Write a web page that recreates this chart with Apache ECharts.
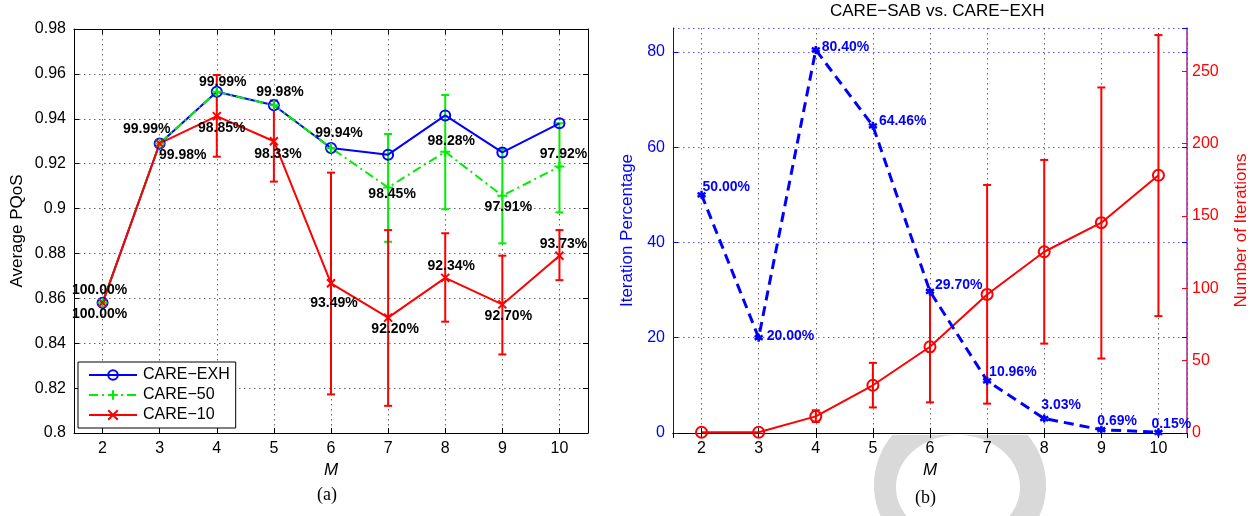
<!DOCTYPE html>
<html><head><meta charset="utf-8">
<script src="https://cdn.jsdelivr.net/npm/echarts@6/dist/echarts.min.js"></script>
<style>html,body{margin:0;padding:0;background:#fff}#c{width:1259px;height:516px}</style>
</head><body><div id="c"></div>
<script>
// ---------- data ----------
const M = [2, 3, 4, 5, 6, 7, 8, 9, 10];
// (a) Average PQoS
const pqosEXH = [0.858, 0.929, 0.952, 0.946, 0.927, 0.924, 0.9415, 0.925, 0.938];
const pqos50 = [0.858, 0.929, 0.952, 0.946, 0.927, 0.9094, 0.9253, 0.9057, 0.9187];
const pqos50Low = [null, null, null, null, null, 0.8852, 0.8997, 0.8845, 0.8983];
const pqos50High = [null, null, null, null, null, 0.9332, 0.9506, 0.9265, 0.938];
const pqos10 = [0.858, 0.929, 0.9412, 0.930, 0.8667, 0.8514, 0.8691, 0.8573, 0.879];
const pqos10Low = [null, null, 0.9231, 0.912, 0.8172, 0.8121, 0.8496, 0.835, 0.8681];
const pqos10High = [null, null, 0.9595, 0.9482, 0.916, 0.8904, 0.889, 0.879, 0.8904];
const ratio50Labels = ['100.00%', '99.99%', '99.99%', '99.98%', '99.94%', '98.45%', '98.28%', '97.91%', '97.92%'];
const ratio10Labels = ['100.00%', '99.98%', '98.85%', '98.33%', '93.49%', '92.20%', '92.34%', '92.70%', '93.73%'];
// (b) CARE-SAB vs. CARE-EXH
const iterPct = [50.00, 20.00, 80.40, 64.46, 29.70, 10.96, 3.03, 0.69, 0.15];
const iterPctLabels = ['50.00%', '20.00%', '80.40%', '64.46%', '29.70%', '10.96%', '3.03%', '0.69%', '0.15%'];
const iterNum = [0.5, 0.5, 11.5, 33, 59.6, 95.8, 125.3, 145.4, 178.2];
const iterNumLow = [null, null, 7.6, 17.7, 21.2, 20.3, 61.8, 51.5, 80.8];
const iterNumHigh = [null, null, 15.7, 48.5, 98.8, 171.5, 188.8, 238.9, 275.1];
const legendNames = ['CARE\u2212EXH', 'CARE\u221250', 'CARE\u221210'];
const titleText = 'CARE\u2212SAB vs. CARE\u2212EXH';

// ---------- layout / style ----------
const FONT = "'Liberation Sans', Arial, Helvetica, sans-serif";
const SERIF = "'Liberation Serif', 'Times New Roman', serif";
const BLUE = '#0000ff', RED = '#ff0000', GREEN = '#00ee00', PURPLE = '#a0288c';
const off50 = [[-3, -13], [-13, -14], [6, -10], [6, -13], [8, -15], [4, 7], [6, -11], [6, 11], [4, -12]];
const off10 = [[-3, 11], [23, 12], [5, 12], [4, 13], [3, 20], [7, 12], [6, -12], [6, 12], [4, -12]];
const offPct = [[1, -8], [8, -2], [6, -3], [6, -5], [5, -6], [2, -9], [-3, -13], [-4, -9], [-7, -8]];

const PLUS = 'path://M0,5L10,5M5,0L5,10';
const CROSS = 'path://M0,0L10,10M10,0L0,10';
const STAR = 'path://M5,0L5,10M0.7,2.5L9.3,7.5M0.7,7.5L9.3,2.5';

function errData(lo, hi) {
  const out = [];
  M.forEach((m, i) => { if (lo[i] != null) out.push([m, lo[i], hi[i]]); });
  return out;
}
function errRender(color) {
  return function (params, api) {
    const x = api.value(0);
    const p1 = api.coord([x, api.value(1)]);
    const p2 = api.coord([x, api.value(2)]);
    const w = 4;
    const style = { stroke: color, lineWidth: 2 };
    return { type: 'group', children: [
      { type: 'line', shape: { x1: p1[0], y1: p1[1], x2: p2[0], y2: p2[1] }, style },
      { type: 'line', shape: { x1: p1[0] - w, y1: p1[1], x2: p1[0] + w, y2: p1[1] }, style },
      { type: 'line', shape: { x1: p2[0] - w, y1: p2[1], x2: p2[0] + w, y2: p2[1] }, style }
    ] };
  };
}
function labeledData(vals, texts, offs, extra) {
  return M.map((m, i) => ({
    value: [m, vals[i]],
    label: Object.assign({ show: true, formatter: texts[i], position: 'inside', offset: offs[i] }, extra || {})
  }));
}
function ellipsePts(cx, cy, rx, ry, yMin) {
  const pts = [];
  for (let k = 0; k < 160; k++) {
    const t = 2 * Math.PI * k / 160;
    let y = cy + ry * Math.sin(t);
    if (y < yMin) y = yMin;
    pts.push([cx + rx * Math.cos(t), y]);
  }
  return pts;
}

const xBase = {
  type: 'value', min: 1.5, max: 10.5, splitNumber: 9,
  axisLine: { lineStyle: { color: '#000', width: 1 } },
  axisTick: { inside: true, length: 5, lineStyle: { color: '#000' } },
  axisLabel: { color: '#000', fontSize: 16, fontFamily: FONT, margin: 8, showMinLabel: false, showMaxLabel: false },
  nameLocation: 'middle', nameGap: 27,
  nameTextStyle: { fontSize: 17, fontStyle: 'italic', fontFamily: FONT, color: '#000' }
};
const gridDot = { show: true, lineStyle: { type: [1.5, 3.5], color: '#666', width: 1 } };

const option = {
  backgroundColor: '#fff',
  animation: false,
  title: { text: titleText, left: 830, top: 3, padding: 0,
    textStyle: { fontSize: 17, fontWeight: 'normal', fontFamily: FONT, color: '#000' } },
  grid: [
    { left: 74, top: 29, width: 514, height: 404 },
    { left: 673, top: 28, width: 514, height: 405 }
  ],
  legend: {
    data: legendNames, orient: 'vertical', left: 78, top: 362,
    padding: [5, 6, 5, 10], itemGap: 4, itemWidth: 48, itemHeight: 12,
    borderColor: '#000', borderWidth: 1, backgroundColor: '#fff', borderRadius: 0,
    selectedMode: false,
    textStyle: { fontSize: 16, color: '#000', fontFamily: FONT, padding: [0, 0, 0, 1] }
  },
  xAxis: [
    Object.assign({}, xBase, { gridIndex: 0, position: 'bottom', name: 'M', splitLine: gridDot }),
    Object.assign({}, xBase, { gridIndex: 0, position: 'top', axisLabel: { show: false }, splitLine: { show: false } }),
    Object.assign({}, xBase, { gridIndex: 1, position: 'bottom', name: 'M', splitLine: gridDot }),
    Object.assign({}, xBase, { gridIndex: 1, position: 'top', axisLabel: { show: false }, splitLine: { show: false } })
  ],
  yAxis: [
    { type: 'value', gridIndex: 0, position: 'left', min: 0.8, max: 0.98, interval: 0.02,
      name: 'Average PQoS', nameLocation: 'middle', nameGap: 48,
      nameTextStyle: { fontSize: 17, fontFamily: FONT, color: '#000' },
      axisLine: { show: true, lineStyle: { color: '#000' } },
      axisTick: { show: true, inside: true, length: 5, lineStyle: { color: '#000' } },
      axisLabel: { color: '#000', fontSize: 16, fontFamily: FONT, margin: 8,
        formatter: v => String(+v.toFixed(2)) },
      splitLine: gridDot },
    { type: 'value', gridIndex: 0, position: 'right', min: 0.8, max: 0.98, interval: 0.02,
      axisLine: { show: true, lineStyle: { color: '#000' } },
      axisTick: { show: true, inside: true, length: 5, lineStyle: { color: '#000' } },
      axisLabel: { show: false }, splitLine: { show: false } },
    { type: 'value', gridIndex: 1, position: 'left', min: 0, max: 85, interval: 20,
      name: 'Iteration Percentage', nameLocation: 'middle', nameGap: 37,
      nameTextStyle: { fontSize: 17, fontFamily: FONT, color: BLUE },
      axisLine: { show: true, lineStyle: { color: BLUE } },
      axisTick: { show: true, inside: true, length: 5, lineStyle: { color: BLUE } },
      axisLabel: { color: BLUE, fontSize: 16, fontFamily: FONT, margin: 8, showMaxLabel: false },
      splitLine: { show: true, lineStyle: { type: [1.5, 3.5], color: '#5a5aff', width: 1 } } },
    { type: 'value', gridIndex: 1, position: 'right', min: 0, max: 280, interval: 50,
      name: 'Number of Iterations', nameLocation: 'middle', nameGap: 46,
      nameTextStyle: { fontSize: 17, fontFamily: FONT, color: RED },
      axisLine: { show: true, lineStyle: { color: PURPLE, width: 1.5 } },
      axisTick: { show: true, inside: true, length: 5, lineStyle: { color: RED } },
      axisLabel: { color: RED, fontSize: 16, fontFamily: FONT, margin: 5, showMaxLabel: false },
      splitLine: { show: false } },
    { type: 'value', gridIndex: 1, position: 'right', min: 0, max: 85, interval: 20,
      axisLine: { show: false },
      axisTick: { show: true, inside: true, length: 5, lineStyle: { color: BLUE } },
      axisLabel: { show: false }, splitLine: { show: false } }
  ],
  graphic: [
    { type: 'polygon', z: -1, silent: true, shape: { points: ellipsePts(960, 485, 86, 81, 435) }, style: { fill: '#d9d9d9' } },
    { type: 'polygon', z: -1, silent: true, shape: { points: ellipsePts(958, 487, 62, 52, 435) }, style: { fill: '#fff' } },
    { type: 'text', left: 317, top: 486, style: { text: '(a)', fontSize: 18, fontFamily: SERIF, fill: '#000' } },
    { type: 'text', left: 915, top: 489, style: { text: '(b)', fontSize: 18, fontFamily: SERIF, fill: '#000' } }
  ],
  series: [
    { name: legendNames[0], type: 'line', xAxisIndex: 0, yAxisIndex: 0,
      data: M.map((m, i) => [m, pqosEXH[i]]),
      symbol: 'circle', symbolSize: 10,
      lineStyle: { color: BLUE, width: 2 },
      itemStyle: { color: 'rgba(255,255,255,0)', borderColor: BLUE, borderWidth: 2 } },
    { name: legendNames[1], type: 'line', xAxisIndex: 0, yAxisIndex: 0,
      data: labeledData(pqos50, ratio50Labels, off50),
      symbol: PLUS, symbolSize: 10,
      lineStyle: { color: GREEN, width: 2, type: [9, 4, 2, 4] },
      itemStyle: { color: GREEN, borderColor: GREEN, borderWidth: 2 },
      label: { fontSize: 14, fontWeight: 'bold', color: '#000', fontFamily: FONT } },
    { name: legendNames[2], type: 'line', xAxisIndex: 0, yAxisIndex: 0,
      data: labeledData(pqos10, ratio10Labels, off10),
      symbol: CROSS, symbolSize: 8,
      lineStyle: { color: RED, width: 2 },
      itemStyle: { color: RED, borderColor: RED, borderWidth: 2 },
      label: { fontSize: 14, fontWeight: 'bold', color: '#000', fontFamily: FONT } },
    { name: 'err50', type: 'custom', xAxisIndex: 0, yAxisIndex: 0,
      data: errData(pqos50Low, pqos50High), encode: { x: 0, y: [1, 2] },
      renderItem: errRender(GREEN), z: 3 },
    { name: 'err10', type: 'custom', xAxisIndex: 0, yAxisIndex: 0,
      data: errData(pqos10Low, pqos10High), encode: { x: 0, y: [1, 2] },
      renderItem: errRender(RED), z: 3 },
    { name: 'Number of Iterations', type: 'line', xAxisIndex: 2, yAxisIndex: 3,
      data: M.map((m, i) => [m, iterNum[i]]),
      symbol: 'circle', symbolSize: 11,
      lineStyle: { color: RED, width: 2 },
      itemStyle: { color: 'rgba(255,255,255,0)', borderColor: RED, borderWidth: 2 } },
    { name: 'errIter', type: 'custom', xAxisIndex: 2, yAxisIndex: 3,
      data: errData(iterNumLow, iterNumHigh), encode: { x: 0, y: [1, 2] },
      renderItem: errRender(RED), z: 3 },
    { name: 'Iteration Percentage', type: 'line', xAxisIndex: 2, yAxisIndex: 2,
      data: labeledData(iterPct, iterPctLabels, offPct, { align: 'left' }),
      symbol: STAR, symbolSize: 8,
      lineStyle: { color: BLUE, width: 3, type: [10, 6] },
      itemStyle: { color: BLUE, borderColor: BLUE, borderWidth: 2.5 },
      label: { fontSize: 14, fontWeight: 'bold', color: BLUE, fontFamily: FONT } }
  ]
};
const chart = echarts.init(document.getElementById('c'), null, { renderer: 'canvas' });
chart.setOption(option);
</script></body></html>
